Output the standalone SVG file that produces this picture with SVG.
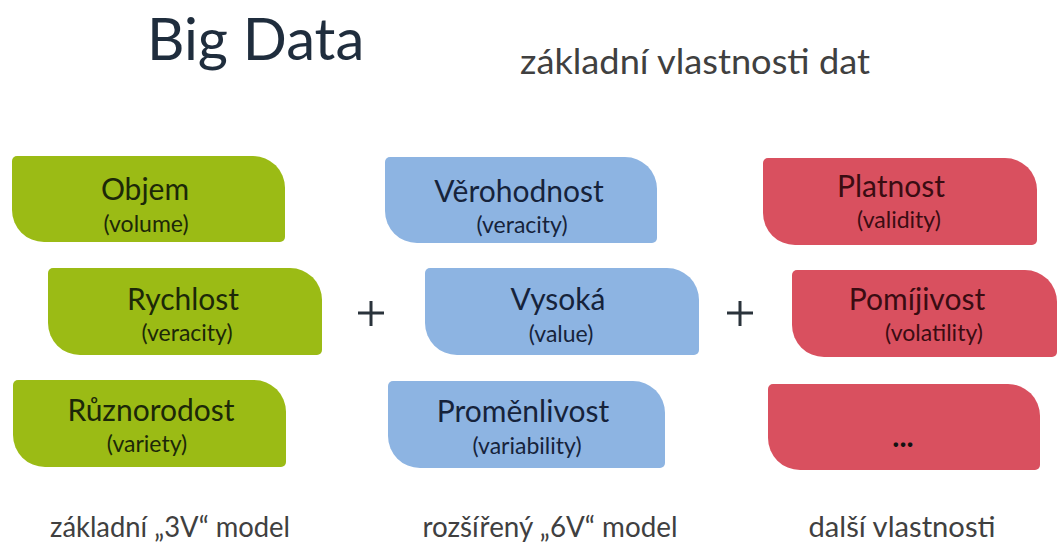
<svg xmlns="http://www.w3.org/2000/svg" width="1059" height="544" viewBox="0 0 1059 544">
  <style>
    text { font-family: Lato, "Open Sans", "Liberation Sans", sans-serif; text-anchor: middle; }
    .title { font-size: 58px; fill: #1f2d3d; text-anchor: start; }
    .subtitle { font-size: 34px; fill: #404040; }
    .caption { font-size: 28px; fill: #404040; }
    .name { font-size: 30px; }
    .en { font-size: 23px; }
    .plus { stroke: #2a333b; stroke-width: 3; fill: none; }
    .green { fill: #9bbb15; }
    .blue { fill: #8db4e2; }
    .red { fill: #d9505f; }
    .tg { fill: #1c2808; }
    .tb { fill: #16233b; }
    .tr { fill: #3a0c12; }
  </style>

  <!-- heading -->
  <text class="title" x="147" y="60">Big Data</text>
  <text class="subtitle" x="695" y="74" textLength="350" lengthAdjust="spacingAndGlyphs">základní vlastnosti dat</text>

  <!-- basic 3V column -->
  <g id="objem">
    <path class="green" d="M17,156 H253 A32,32 0 0 1 285,188 V237 A5,5 0 0 1 280,242 H44 A32,32 0 0 1 12,210 V161 A5,5 0 0 1 17,156 Z"/>
    <text class="name tg" x="145" y="200">Objem</text>
    <text class="en tg" x="146" y="232">(volume)</text>
  </g>
  <g id="rychlost">
    <path class="green" d="M53,268 H290 A32,32 0 0 1 322,300 V350 A5,5 0 0 1 317,355 H80 A32,32 0 0 1 48,323 V273 A5,5 0 0 1 53,268 Z"/>
    <text class="name tg" x="183" y="310">Rychlost</text>
    <text class="en tg" x="187" y="341">(veracity)</text>
  </g>
  <g id="ruznorodost">
    <path class="green" d="M18,380 H254 A32,32 0 0 1 286,412 V462 A5,5 0 0 1 281,467 H45 A32,32 0 0 1 13,435 V385 A5,5 0 0 1 18,380 Z"/>
    <text class="name tg" x="151" y="421">Různorodost</text>
    <text class="en tg" x="147" y="452">(variety)</text>
  </g>

  <!-- extended 6V column -->
  <g id="verohodnost">
    <path class="blue" d="M390,157 H625 A32,32 0 0 1 657,189 V238 A5,5 0 0 1 652,243 H417 A32,32 0 0 1 385,211 V162 A5,5 0 0 1 390,157 Z"/>
    <text class="name tb" x="519" y="202">Věrohodnost</text>
    <text class="en tb" x="522" y="233">(veracity)</text>
  </g>
  <g id="vysoka">
    <path class="blue" d="M430,268 H667 A32,32 0 0 1 699,300 V350 A5,5 0 0 1 694,355 H457 A32,32 0 0 1 425,323 V273 A5,5 0 0 1 430,268 Z"/>
    <text class="name tb" x="558" y="310">Vysoká</text>
    <text class="en tb" x="561" y="342">(value)</text>
  </g>
  <g id="promenlivost">
    <path class="blue" d="M393,381 H633 A32,32 0 0 1 665,413 V463 A5,5 0 0 1 660,468 H420 A32,32 0 0 1 388,436 V386 A5,5 0 0 1 393,381 Z"/>
    <text class="name tb" x="523" y="422">Proměnlivost</text>
    <text class="en tb" x="527" y="454">(variability)</text>
  </g>

  <!-- further properties column -->
  <g id="platnost">
    <path class="red" d="M768,158 H1005 A32,32 0 0 1 1037,190 V240 A5,5 0 0 1 1032,245 H795 A32,32 0 0 1 763,213 V163 A5,5 0 0 1 768,158 Z"/>
    <text class="name tr" x="891" y="197">Platnost</text>
    <text class="en tr" x="899" y="228">(validity)</text>
  </g>
  <g id="pomijivost">
    <path class="red" d="M797,270 H1025 A32,32 0 0 1 1057,302 V352 A5,5 0 0 1 1052,357 H824 A32,32 0 0 1 792,325 V275 A5,5 0 0 1 797,270 Z"/>
    <text class="name tr" x="917" y="310">Pomíjivost</text>
    <text class="en tr" x="934" y="341">(volatility)</text>
  </g>
  <g id="dalsi">
    <path class="red" d="M773,384 H1008 A32,32 0 0 1 1040,416 V465 A5,5 0 0 1 1035,470 H800 A32,32 0 0 1 768,438 V389 A5,5 0 0 1 773,384 Z"/>
    <text class="name" x="903" y="447" style="font-weight:bold; fill:#111">...</text>
  </g>

  <!-- plus signs between the columns -->
  <g id="connectors">
    <path class="plus" d="M358,313 H384 M371,301 V326"/>
    <path class="plus" d="M727,313 H753 M740,301 V326"/>
  </g>

  <!-- column captions -->
  <text class="caption" x="170" y="537" textLength="240" lengthAdjust="spacingAndGlyphs">základní „3V“ model</text>
  <text class="caption" x="550" y="537" textLength="255" lengthAdjust="spacingAndGlyphs">rozšířený „6V“ model</text>
  <text class="caption" x="902" y="537" textLength="187" lengthAdjust="spacingAndGlyphs">další vlastnosti</text>
</svg>
